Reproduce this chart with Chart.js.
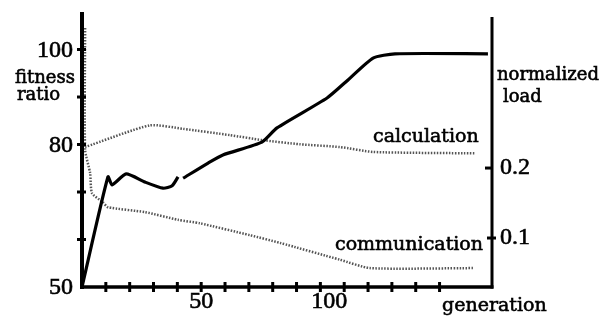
<!DOCTYPE html>
<html>
<head>
<meta charset="utf-8">
<script src="https://cdn.jsdelivr.net/npm/chart.js@4"></script>
<style>
  html, body { margin: 0; padding: 0; background: #fff; }
</style>
</head>
<body>
<canvas id="chart" width="611" height="318"></canvas>
<script>
// fitness ratio (left axis), solid line, null = break in the curve
const fitnessGen = [0, 10.9, 12.6, 18.5, 26.4, 34.0, 37.8, 40.3, 41.3, 42.4, 52.9, 59.1, 75.5, 81.8, 102.8, 111.6, 122.1, 131.3, 170.3];
const fitnessVal = [50.0, 73.2, 71.5, 73.8, 72.1, 70.8, 71.3, 73.2, null, 72.9, 76.1, 77.8, 80.5, 83.5, 89.8, 93.6, 98.2, 99.1, 99.1];

// normalized load (right axis), dotted lines
const calcGen = [1.3, 28.5, 42.4, 62.1, 75.5, 91.4, 108.2, 122.1, 164.8];
const calcVal = [0.230, 0.261, 0.256, 0.247, 0.240, 0.234, 0.230, 0.223, 0.221];

const commGen = [1.3, 1.3, 3.4, 4.2, 8.8, 10.9, 26.4, 40.3, 49.5, 70.5, 83.1, 108.2, 120.8, 164.0];
const commVal = [0.400, 0.226, 0.193, 0.164, 0.151, 0.144, 0.137, 0.126, 0.121, 0.104, 0.093, 0.069, 0.057, 0.057];

// ticks
const xTicks = [10, 20, 30, 40, 50, 60, 70, 80, 90, 100, 110, 120, 130, 140, 150];
const xTickLabels = [50, 100];
const leftTicks = [60, 70, 80, 90, 100];
const leftTickLabels = [50, 80, 100];
const rightTickLabels = [0.1, 0.2];

const WORD = '"DejaVu Serif", serif';
const NUM = '"Liberation Serif", serif';

const toPoints = (xs, ys) => xs.map((x, i) => ({ x, y: ys[i] }));

const paperAxes = {
    id: 'paperAxes',
    afterDatasetsDraw(chart) {
        const { ctx, chartArea: a, scales } = chart;
        const { x, y, y2 } = scales;
        const seg = (x1, y1, x2, y2_, w) => {
            ctx.lineWidth = w;
            ctx.beginPath();
            ctx.moveTo(x1, y1);
            ctx.lineTo(x2, y2_);
            ctx.stroke();
        };
        // heavier print look: fill plus a thin outline
        const text = (s, px, py) => {
            ctx.fillText(s, px, py);
            ctx.lineWidth = 0.6;
            ctx.strokeText(s, px, py);
        };
        ctx.save();
        ctx.strokeStyle = '#000';
        ctx.fillStyle = '#000';

        // axis lines
        seg(a.left, a.top, a.left, a.bottom + 2, 4);
        seg(a.left, a.bottom, a.right + 1.5, a.bottom, 3.5);
        seg(a.right, a.top + 5, a.right, a.bottom + 1.5, 3);

        // crossing ticks
        xTicks.forEach(v => {
            const px = x.getPixelForValue(v);
            seg(px, a.bottom - 5, px, a.bottom + 5, 3);
        });
        leftTicks.forEach(v => {
            const py = y.getPixelForValue(v);
            seg(a.left - 5, py, a.left + 4, py, 3);
        });
        seg(a.right - 7, y2.getPixelForValue(0.2), a.right, y2.getPixelForValue(0.2), 3);
        seg(a.right - 5, y2.getPixelForValue(0.1), a.right + 4, y2.getPixelForValue(0.1), 3);

        // tick labels
        ctx.font = '24px ' + NUM;
        ctx.textBaseline = 'middle';
        ctx.textAlign = 'right';
        leftTickLabels.forEach(v => text(String(v), a.left - 9, y.getPixelForValue(v) + 1));
        ctx.textAlign = 'left';
        rightTickLabels.forEach(v => text(String(v), a.right + 8, y2.getPixelForValue(v)));
        ctx.textAlign = 'center';
        ctx.textBaseline = 'top';
        xTickLabels.forEach(v => {
            const shift = v === 100 ? 9 : 0;
            text(String(v), x.getPixelForValue(v) + shift, a.bottom + 3);
        });

        // axis titles and series names
        ctx.font = '18px ' + WORD;
        ctx.textBaseline = 'alphabetic';
        ctx.textAlign = 'left';
        text('fitness', 15, 83);
        text('ratio', 17, 100);
        text('normalized', a.right + 5, 80);
        text('load', a.right + 11, 102);
        ctx.font = '19px ' + WORD;
        text('generation', 442, 311);
        text('calculation', 373, 142);
        text('communication', 335, 250);
        ctx.restore();
    }
};

new Chart(document.getElementById('chart'), {
    type: 'line',
    data: {
        datasets: [
            {
                label: 'fitness ratio',
                data: toPoints(fitnessGen, fitnessVal),
                yAxisID: 'y',
                borderColor: '#000',
                borderWidth: 3.2,
                pointRadius: 0,
                tension: 0.2,
                spanGaps: false
            },
            {
                label: 'calculation',
                data: toPoints(calcGen, calcVal),
                yAxisID: 'y2',
                borderColor: '#555',
                borderWidth: 2.5,
                borderDash: [1.5, 1.5],
                pointRadius: 0,
                tension: 0.2
            },
            {
                label: 'communication',
                data: toPoints(commGen, commVal),
                yAxisID: 'y2',
                borderColor: '#555',
                borderWidth: 2.5,
                borderDash: [1.5, 1.5],
                pointRadius: 0,
                tension: 0.2
            }
        ]
    },
    options: {
        responsive: false,
        animation: false,
        layout: { padding: { left: 82, right: 119, top: 12, bottom: 31 } },
        plugins: {
            legend: { display: false },
            tooltip: { enabled: false }
        },
        scales: {
            x: { type: 'linear', min: 0, max: 172, display: false },
            y: { type: 'linear', min: 50, max: 107.9, display: false },
            y2: { type: 'linear', position: 'right', min: 0.03, max: 0.423, display: false }
        }
    },
    plugins: [paperAxes]
});
</script>
</body>
</html>
